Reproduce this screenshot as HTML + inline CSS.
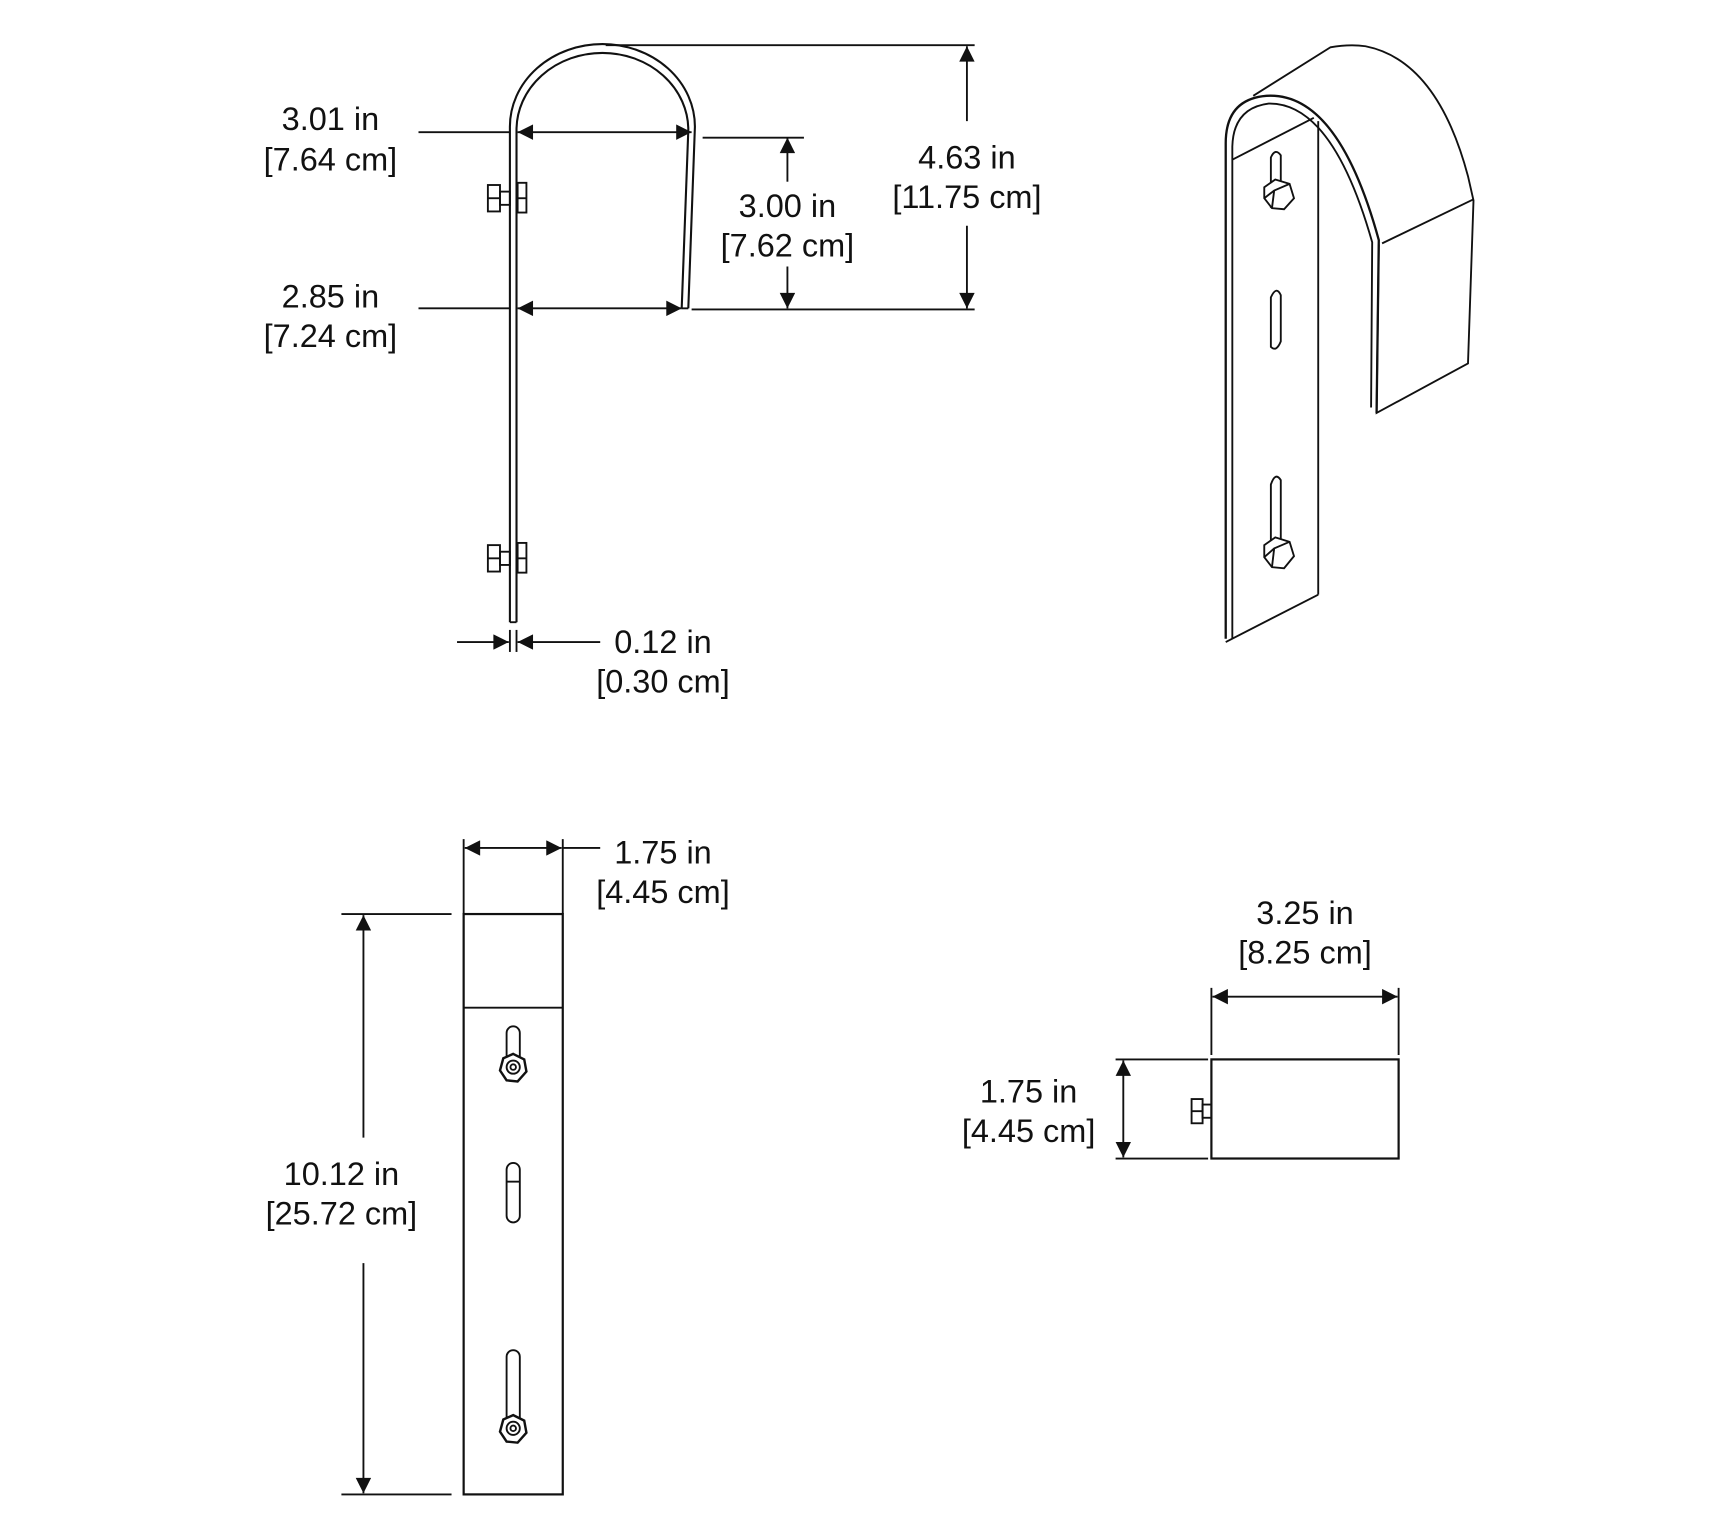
<!DOCTYPE html>
<html><head><meta charset="utf-8"><style>
html,body{margin:0;padding:0;background:#fff}
svg{display:block}
text{font-family:"Liberation Sans",sans-serif;font-size:29.5px;fill:#111;text-anchor:middle}
</style></head><body>
<svg width="1718" height="1527" viewBox="0 0 1560 1386.6" xmlns="http://www.w3.org/2000/svg">
<defs>
<marker id="a" viewBox="0 0 10 10" refX="10" refY="5" markerWidth="24" markerHeight="14" markerUnits="userSpaceOnUse" orient="auto-start-reverse"><path d="M0,0 L10,5 L0,10z" fill="#111"/></marker>
</defs>
<g fill="none" stroke="#111" stroke-width="1.7">
<path d="M463,565 L463,115 A84,75 0 0 1 631,115 L625,280" stroke-width="1.9"/>
<path d="M469,565 L469,118 A78,70 0 0 1 625,118 L619,280" stroke-width="1.9"/>
<line x1="463" y1="565" x2="469" y2="565"/>
<line x1="619" y1="280" x2="625" y2="280"/>
<g id="bolt"><rect x="443" y="168" width="11" height="24"/><rect x="454" y="174" width="9" height="12"/><rect x="470" y="166" width="8" height="27"/><line x1="443" y1="180" x2="454" y2="180"/><line x1="470" y1="180" x2="478" y2="180"/></g>
<use href="#bolt" transform="translate(0,327)"/>
<line x1="380" y1="120" x2="463" y2="120"/>
<line x1="470" y1="120" x2="628" y2="120" marker-start="url(#a)" marker-end="url(#a)"/>
<line x1="380" y1="280" x2="463" y2="280"/>
<line x1="470" y1="280" x2="619" y2="280" marker-start="url(#a)" marker-end="url(#a)"/>
<line x1="638" y1="125" x2="730" y2="125"/>
<line x1="715" y1="165" x2="715" y2="125" marker-end="url(#a)"/>
<line x1="715" y1="242" x2="715" y2="280" marker-end="url(#a)"/>
<line x1="550" y1="41" x2="885" y2="41"/>
<line x1="628" y1="281" x2="885" y2="281"/>
<line x1="878" y1="110" x2="878" y2="42" marker-end="url(#a)"/>
<line x1="878" y1="205" x2="878" y2="280" marker-end="url(#a)"/>
<line x1="463" y1="572" x2="463" y2="592"/><line x1="469" y1="572" x2="469" y2="592"/>
<line x1="415" y1="583" x2="462" y2="583" marker-end="url(#a)"/>
<line x1="545" y1="583" x2="470" y2="583" marker-end="url(#a)"/>

<g stroke-width="1.7">
<path d="M1138,87 L1208,43 Q1225,40 1240,42 Q1305,55 1333,160 L1338,182 L1333,330 L1250,375 L1252,222"/>
<line x1="1255" y1="221" x2="1338" y2="181"/>
<path d="M1113,580 L1113,130 Q1113,90 1150,87 Q1215,83 1252,218 L1250,375" stroke-width="2.1"/>
<path d="M1119,580 L1119,133 Q1120,98 1152,94 Q1210,93 1246,220 L1245,370"/>
<line x1="1119" y1="145" x2="1193" y2="107"/>
<line x1="1197" y1="110" x2="1197" y2="540"/>
<path d="M1113,583 L1197,540"/>
<path d="M1154,186 L1154,143 Q1158,134 1163,141 L1163,170 Z"/>
<path d="M1148,170 L1158,163 L1171,167 L1175,180 L1166,190 L1155,189 L1148,180 Z" fill="#fff"/>
<path d="M1148,180 L1157,173 L1171,167"/><line x1="1157" y1="173" x2="1155" y2="189"/>
<path d="M1154,315 L1154,270 Q1159,259 1163,268 L1163,310 Q1159,320 1154,315 Z"/>
<path d="M1154,500 L1154,440 Q1158,428 1163,436 L1163,495 Z"/>
<path d="M1148,495 L1158,488 L1171,492 L1175,505 L1166,516 L1155,515 L1148,506 Z" fill="#fff"/>
<path d="M1148,506 L1157,498 L1171,492"/><line x1="1157" y1="498" x2="1155" y2="515"/>
</g>

<rect x="421" y="830" width="90" height="527" stroke-width="2"/>
<line x1="421" y1="915" x2="511" y2="915"/>
<path d="M460,966 L460,938 A6,6 0 0 1 472,938 L472,966"/>
<path d="M466,957 L476,962 L478,973 L470,982 L460,981 L454,972 L457,961 Z" fill="#fff" stroke-width="2.2"/>
<circle cx="466" cy="969" r="6"/><circle cx="466" cy="969" r="2.5"/>
<path d="M460,1062 A6,6 0 0 1 472,1062 L472,1104 A6,6 0 0 1 460,1104 Z"/>
<line x1="460" y1="1073" x2="472" y2="1073"/>
<path d="M460,1294 L460,1232 A6,6 0 0 1 472,1232 L472,1294"/>
<path d="M466,1285 L476,1290 L478,1301 L470,1310 L460,1309 L454,1300 L457,1289 Z" fill="#fff" stroke-width="2.2"/>
<circle cx="466" cy="1297" r="6"/><circle cx="466" cy="1297" r="2.5"/>
<line x1="421" y1="762" x2="421" y2="830"/><line x1="511" y1="762" x2="511" y2="830"/>
<line x1="422" y1="770" x2="510" y2="770" marker-start="url(#a)" marker-end="url(#a)"/>
<line x1="511" y1="770" x2="545" y2="770"/>
<line x1="310" y1="830" x2="410" y2="830"/><line x1="310" y1="1357" x2="410" y2="1357"/>
<line x1="330" y1="1033" x2="330" y2="831" marker-end="url(#a)"/>
<line x1="330" y1="1147" x2="330" y2="1356" marker-end="url(#a)"/>

<rect x="1100" y="962" width="170" height="90" stroke-width="2"/>
<rect x="1082" y="998" width="10" height="22"/><rect x="1092" y="1003" width="8" height="12"/>
<line x1="1082" y1="1009" x2="1092" y2="1009"/>
<line x1="1100" y1="897" x2="1100" y2="958"/><line x1="1270" y1="897" x2="1270" y2="958"/>
<line x1="1101" y1="905" x2="1269" y2="905" marker-start="url(#a)" marker-end="url(#a)"/>
<line x1="1013" y1="962" x2="1097" y2="962"/><line x1="1013" y1="1052" x2="1097" y2="1052"/>
<line x1="1020" y1="963" x2="1020" y2="1051" marker-start="url(#a)" marker-end="url(#a)"/>
</g>
<text x="300" y="118">3.01 in</text><text x="300" y="155">[7.64 cm]</text>
<text x="300" y="279">2.85 in</text><text x="300" y="315">[7.24 cm]</text>
<text x="715" y="197">3.00 in</text><text x="715" y="233">[7.62 cm]</text>
<text x="878" y="153">4.63 in</text><text x="878" y="189">[11.75 cm]</text>
<text x="602" y="593">0.12 in</text><text x="602" y="629">[0.30 cm]</text>
<text x="602" y="784">1.75 in</text><text x="602" y="820">[4.45 cm]</text>
<text x="310" y="1076">10.12 in</text><text x="310" y="1112">[25.72 cm]</text>
<text x="1185" y="839">3.25 in</text><text x="1185" y="875">[8.25 cm]</text>
<text x="934" y="1001">1.75 in</text><text x="934" y="1037">[4.45 cm]</text>
</svg>
</body></html>
